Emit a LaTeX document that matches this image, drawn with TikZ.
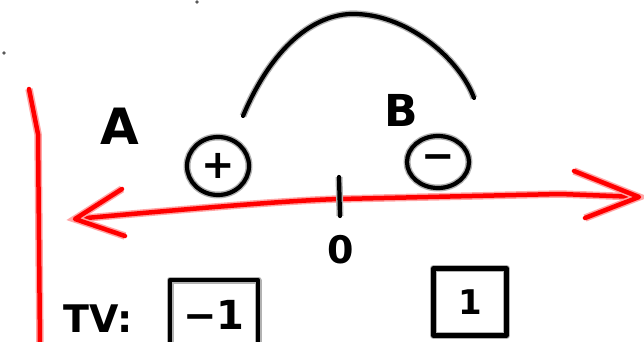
\documentclass[tikz,border=0pt]{standalone}
\usepackage{fontspec}
\setmainfont{DejaVu Sans}
\usetikzlibrary{shapes.geometric}
\tikzset{
  ink/.style={preaction={draw=gray!60,line width=7pt},draw=black,line width=4.2pt,line cap=round,line join=round},
  redink/.style={preaction={draw=red!35,line width=7.5pt},draw=red,line width=4.5pt,line cap=round,line join=round},
  lbl/.style={inner sep=0pt,font=\fontsize{42}{42}\selectfont\bfseries},
  charge/.style={ellipse,ink,inner sep=0pt,font=\fontsize{40}{40}\selectfont\bfseries},
  tvbox/.style={rectangle,ink,inner sep=0pt,font=\fontsize{40}{40}\selectfont\bfseries}
}
\begin{document}
\begin{tikzpicture}[x=1pt,y=-1pt]
\useasboundingbox (0,0) rectangle (644,342);
\clip (0,0) rectangle (644,342);
% stray dots
\fill[gray!70!black] (4,53) circle (1.8);
\fill[gray!70!black] (197,2) circle (1.8);
% red vertical line
\coordinate (v1) at (29,89);
\coordinate (v2) at (38,134);
\coordinate (v3) at (40,346);
\draw[redink] (v1) -- (v2) -- (v3);
% red axis
\coordinate (L) at (75,219);
\coordinate (R) at (639,197);
\coordinate (Lu) at (122,189);
\coordinate (Ll) at (125,236);
\coordinate (Ru) at (574,171);
\coordinate (Rl) at (585,218);
\draw[redink] (L) .. controls (220,206) and (300,200) .. (340,199) -- (560,194) -- (R);
\draw[redink] (Lu) -- (L) -- (Ll);
\draw[redink] (Ru) -- (R) -- (Rl);
% tick at zero
\coordinate (t1) at (339,177);
\coordinate (t2) at (340,216);
\draw[ink] (t1) -- (t2);
\node[lbl,font=\fontsize{38}{38}\selectfont\bfseries] (zero) at (341,250) {0};
% labels
\node[lbl,font=\fontsize{50}{50}\selectfont\bfseries] (A) at (120,126) {A};
\node[lbl,font=\fontsize{44}{44}\selectfont\bfseries] (B) at (401,110) {B};
% charges
\node[charge,minimum width=62,minimum height=58] (plus) at (218,166) {+};
\node[charge,minimum width=62,minimum height=52] (minus) at (438,162) {−};
% arc
\coordinate (a1) at (243,116);
\coordinate (a2) at (474,98);
\draw[ink] (a1) .. controls (275,40) and (320,12) .. (357,14) .. controls (410,16) and (460,60) .. (a2);
% TV values
\node[lbl,font=\fontsize{38}{38}\selectfont\bfseries] (tv) at (98,319) {TV:};
\node[tvbox,minimum width=88,minimum height=70] (m1) at (214,315) {−1};
\node[tvbox,minimum width=73,minimum height=67,font=\fontsize{34}{34}\selectfont\bfseries] (p1) at (470,302) {1};
\end{tikzpicture}
\end{document}
